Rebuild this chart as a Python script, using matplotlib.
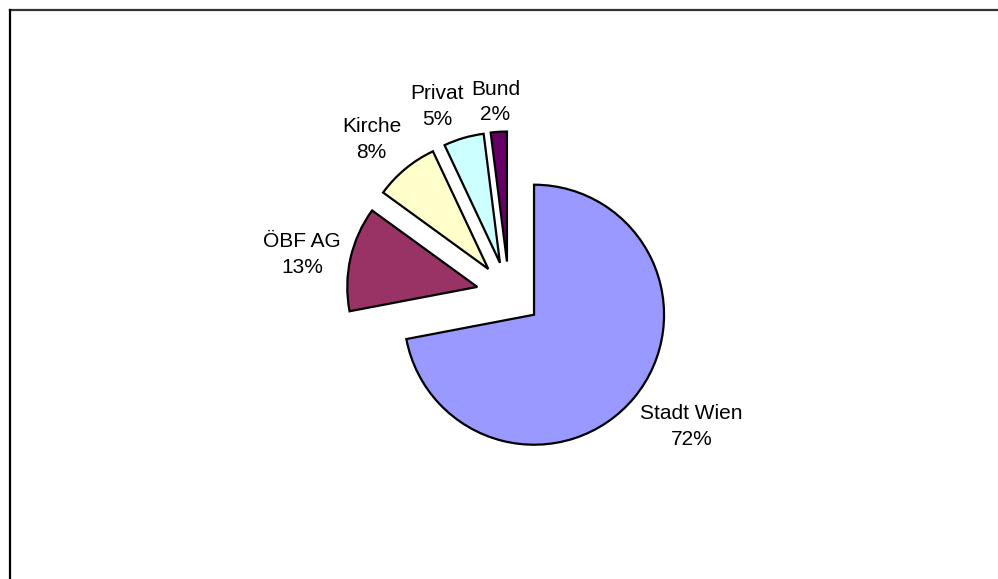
import numpy as np
import matplotlib.pyplot as plt
from matplotlib.lines import Line2D

plt.rcParams['font.family'] = ['Liberation Sans', 'DejaVu Sans']

# data
owners = ["Stadt Wien", "ÖBF AG", "Kirche", "Privat", "Bund"]
shares = [72, 13, 8, 5, 2]
colors = ["#9999FF", "#993366", "#FFFFCC", "#CCFFFF", "#660066"]

# label placement (distance from slice centre in radii, small nudges)
label_dist = [1.47, 1.38, 1.36, 1.27, 1.25]
label_dx = [0.08, 0, -0.03, -0.13, -0.01]
label_dy = [0.08, -0.05, -0.05, -0.02, -0.02]

W, H = 998, 579
fig = plt.figure(figsize=(W / 100, H / 100), dpi=100)
ax = fig.add_axes([0, 0, 1, 1])

wedges, _ = ax.pie(shares, colors=colors,
                   startangle=90, counterclock=False,
                   explode=[0.25] * len(shares),
                   wedgeprops=dict(edgecolor="black", linewidth=1.6))

for w, o, s, d, dx, dy in zip(wedges, owners, shares, label_dist, label_dx, label_dy):
    ang = np.deg2rad((w.theta1 + w.theta2) / 2)
    x0, y0 = w.center
    ax.text(x0 + d * w.r * np.cos(ang) + dx, y0 + d * w.r * np.sin(ang) + dy,
            f"{o}\n{s}%", ha="center", va="center", fontsize=15,
            linespacing=1.45, color="black")

# place the pie: centre at (509, 294) px from top-left, radius 130 px
r = 130.0
cx, cy = 509.0, 294.0
ax.set_xlim(-cx / r, (W - cx) / r)
ax.set_ylim(-(H - cy) / r, cy / r)
ax.set_aspect("equal", adjustable="box")
ax.axis("off")

# chart area frame (top and left edges visible)
fig.add_artist(Line2D([10 / W, 1], [1 - 10 / H, 1 - 10 / H], color="#333333", lw=1.6))
fig.add_artist(Line2D([10 / W, 10 / W], [0, 1 - 10 / H], color="black", lw=1.6))

fig.savefig("out.png", dpi=100, facecolor="white")
